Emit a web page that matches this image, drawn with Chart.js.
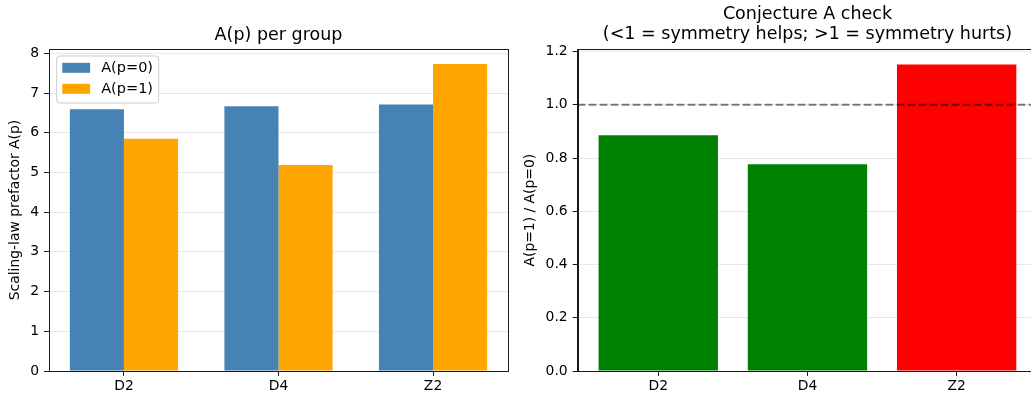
<!DOCTYPE html>
<html>
<head>
<meta charset="utf-8">
<script src="https://cdn.jsdelivr.net/npm/chart.js@4/dist/chart.umd.min.js"></script>
<style>
  html, body { margin: 0; padding: 0; background: #fff; overflow: hidden; }
  #wrap { position: relative; width: 1031px; height: 393px; overflow: hidden; }
  canvas { position: absolute; top: 0; }
  #left { left: 0; }
  #right { left: 515px; }
</style>
</head>
<body>
<div id="wrap">
  <canvas id="left" width="515" height="393"></canvas>
  <canvas id="right" width="540" height="393"></canvas>
</div>
<script>
// groups on the x axis
const groups = ["D2", "D4", "Z2"];
// scaling-law prefactor per group
const aP0 = [6.59, 6.67, 6.71];
const aP1 = [5.85, 5.19, 7.73];
// A(p=1) / A(p=0)
const ratio = [0.886, 0.777, 1.151];
const refLine = 1.0;

Chart.defaults.font.family = "'DejaVu Sans', sans-serif";
Chart.defaults.font.size = 13.9;
Chart.defaults.color = "#000";
Chart.defaults.animation = false;

const toPoints = vals => vals.map((v, i) => ({ x: i, y: v }));

// top + right spines like a matplotlib box
const frame = {
    id: "frame",
    afterDatasetsDraw(chart) {
        const { ctx, chartArea: a } = chart;
        ctx.save();
        ctx.strokeStyle = "#1a1a1a";
        ctx.lineWidth = 1;
        ctx.strokeRect(Math.round(a.left) + 0.5, Math.round(a.top) + 0.5,
            Math.round(a.right - a.left), Math.round(a.bottom - a.top));
        ctx.restore();
    }
};

// legend box inside the axes, upper left
const boxLegend = {
    id: "boxLegend",
    afterDatasetsDraw(chart) {
        const { ctx, chartArea: a } = chart;
        const sets = chart.data.datasets;
        ctx.save();
        ctx.font = "14.5px 'DejaVu Sans'";
        const textW = Math.max(...sets.map(d => ctx.measureText(d.label).width));
        const x0 = a.left + 7.7, y0 = a.top + 7;
        const w = 5.6 + 27.8 + 11.1 + textW + 5.6, h = 47;
        ctx.beginPath();
        ctx.roundRect(x0, y0, w, h, 3);
        ctx.fillStyle = "rgba(255,255,255,0.8)";
        ctx.fill();
        ctx.strokeStyle = "#cccccc";
        ctx.lineWidth = 1;
        ctx.stroke();
        sets.forEach((d, i) => {
            const cy = y0 + 11.8 + i * 21;
            ctx.fillStyle = d.backgroundColor;
            ctx.fillRect(x0 + 5.6, cy - 5, 27.8, 10);
            ctx.fillStyle = "#000";
            ctx.textBaseline = "middle";
            ctx.fillText(d.label, x0 + 5.6 + 27.8 + 11.1, cy);
        });
        ctx.restore();
    }
};

// dashed reference line at ratio = 1
const hline = {
    id: "hline",
    afterDatasetsDraw(chart) {
        const { ctx, chartArea: a, scales } = chart;
        const y = scales.y.getPixelForValue(refLine);
        ctx.save();
        ctx.strokeStyle = "rgba(0,0,0,0.5)";
        ctx.lineWidth = 2;
        ctx.setLineDash([7.7, 3.3]);
        ctx.beginPath();
        ctx.moveTo(a.left, y);
        ctx.lineTo(a.right, y);
        ctx.stroke();
        ctx.restore();
    }
};

function xAxis(min, max) {
    return {
        type: "linear",
        min: min,
        max: max,
        offset: false,
        afterBuildTicks: s => { s.ticks = groups.map((g, i) => ({ value: i })); },
        afterFit: s => { s.height = 22; },
        ticks: { callback: v => groups[v], padding: 2.5, maxRotation: 0, autoSkip: false },
        grid: { offset: false, drawOnChartArea: false, tickColor: "#1a1a1a", tickLength: 5 },
        border: { color: "#1a1a1a", width: 1 }
    };
}

function yAxis(width, max, step, label, fmt) {
    return {
        min: 0,
        max: max,
        afterFit: s => { s.width = width; },
        ticks: { stepSize: step, includeBounds: false, padding: 5, callback: fmt },
        grid: { color: "#e8e8e8", tickColor: "#1a1a1a", tickLength: 5 },
        border: { color: "#1a1a1a", width: 1 },
        title: { display: true, text: label, padding: { top: 6.7, bottom: 0 } }
    };
}

new Chart(document.getElementById("left").getContext("2d"), {
    type: "bar",
    data: {
        datasets: [
            { label: "A(p=0)", data: toPoints(aP0), backgroundColor: "#4682b4" },
            { label: "A(p=1)", data: toPoints(aP1), backgroundColor: "#ffa500" }
        ]
    },
    options: {
        responsive: false,
        devicePixelRatio: 1,
        categoryPercentage: 0.7,
        barPercentage: 1.0,
        layout: { padding: { left: 0, right: 7, top: 0, bottom: 0 } },
        scales: {
            x: xAxis(-0.485, 2.485),
            y: yAxis(49, 8.11, 1, "Scaling-law prefactor A(p)", v => v)
        },
        plugins: {
            legend: { display: false },
            tooltip: { enabled: false },
            title: {
                display: true,
                fullSize: false,
                text: "A(p) per group",
                color: "#000",
                font: { size: 17.5, weight: "normal", lineHeight: 1.143 },
                padding: { top: 25, bottom: 4 }
            }
        }
    },
    plugins: [frame, boxLegend]
});

new Chart(document.getElementById("right").getContext("2d"), {
    type: "bar",
    data: {
        datasets: [{
            label: "ratio",
            data: toPoints(ratio),
            backgroundColor: ratio.map(r => r < refLine ? "#008000" : "#ff0000")
        }]
    },
    options: {
        responsive: false,
        devicePixelRatio: 1,
        categoryPercentage: 0.8,
        barPercentage: 1.0,
        layout: { padding: { left: 0, right: 17.8, top: 0, bottom: 0 } },
        scales: {
            x: xAxis(-0.54, 2.54),
            y: yAxis(62.7, 1.2085, 0.2, "A(p=1) / A(p=0)", v => v.toFixed(1))
        },
        plugins: {
            legend: { display: false },
            tooltip: { enabled: false },
            title: {
                display: true,
                fullSize: false,
                text: ["Conjecture A check", "(<1 = symmetry helps; >1 = symmetry hurts)"],
                color: "#000",
                font: { size: 17.5, weight: "normal", lineHeight: 1.143 },
                padding: { top: 4, bottom: 5.3 }
            }
        }
    },
    plugins: [hline, frame]
});
</script>
</body>
</html>
